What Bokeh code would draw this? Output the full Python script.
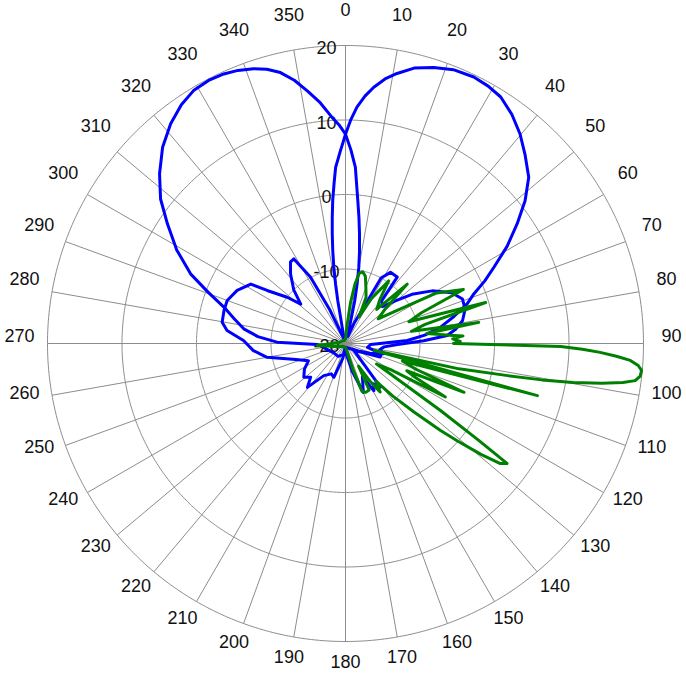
import numpy as np
from bokeh.plotting import figure
from bokeh.models import Range1d
from bokeh.embed import file_html
from bokeh.resources import INLINE
from bokeh.core.properties import value

# ---------------- data (angle in degrees clockwise from north, value in dB) ----------------
angle_ticks = list(range(0, 360, 10))
radial_ticks = [-20, -10, 0, 10, 20]

blue_a_theta = [-180, -170, -161, -155, -146, -139, -134, -129, -122, -115, -108, -100, -94.4, -88.3,
                -83.7, -80.2, -74.8, -70, -63.9, -57.9, -55.9, -51.6, -48.6, -44, -38.3, -34, -31.4,
                -27.8, -25, -21, -17, -13, -10.2, -9.5, -8.7, -7.8, -6.9, -6.0, -5.1, -4.1, -3.2,
                -2.3, -1.5, -0.7, 0, 1.4, 2.8, 4.5, 6.3, 8.5, 10.8, 14, 17.7, 21.5, 25.7, 29, 32.2,
                36, 39.8, 43.5, 47.8, 51.5, 55.1, 59, 62.8, 65.8, 68.8, 71.9, 76, 80.3, 84, 87.2, 92,
                100, 106, 111.4, 118, 130, 141.3, 145, 149, 153, 160, 166, 175, 180]
blue_a_db = [-19.5, -18, -15.2, -15.5, -14.8, -12.2, -13.5, -12.8, -13.5, -14.5, -13, -9.3, -7.6, -6.3,
             -4.0, -3.2, -3.1, -3.1, -3.8, -5.0, -7.3, -10, -12, -10, -8.1, -6.8, -6.7,
             -9.9, -15, -19, -19.5, -18.7, -14.1, -12, -9.6, -7.4, -5.2, -3.0, -0.7, 1.5, 3.7,
             4.8, 5.9, 7.0, 8.1, 10.1, 11.8, 13.3, 14.6, 15.9, 16.9, 18.1, 18.9, 19.5, 19.7, 19.5, 19.1,
             18.0, 16.6, 15.0, 13.2, 10.8, 8.1, 5.3, 2.4, 0.5, -1.5, -2.8, -5.0, -7.1, -9.3, -11.7, -16.6,
             -17, -15, -15, -17.5, -18.5, -12.5, -13.4, -12.6, -15, -13, -16, -18.5, -19.5]

blue_b_theta = [-180, -170, -150, -130, -110, -100, -92, -88.9, -85.5, -81.8, -77.5, -73.4, -69.5,
                -65.8, -61, -56.1, -52, -47.6, -43, -38.5, -34.5, -31, -27.5, -24.3, -21.5, -18.5,
                -16, -13.5, -11, -8.6, -6, -3.4, -1.6, 0, 1.6, 3.2, 4.9, 6.1, 7.3, 8.6, 9.9, 11, 12.2,
                15, 19, 22.9, 26.8, 28.5, 32.3, 37.9, 40.3, 45, 49.5, 53.5, 58.7, 64.5, 69.2, 74, 79,
                82.6, 85.5, 88, 91, 95, 100, 105, 112, 120, 180]
blue_b_db = [-19.5, -18.5, -18, -18, -17.5, -17, -16.2, -10.8, -8.2, -6.2, -4.7, -3.0, -0.3,
             2.8, 5.9, 8.8, 11.5, 13.8, 16.0, 17.7, 18.9, 19.6, 19.8, 19.7, 19.4, 18.9,
             18.3, 17.4, 16.0, 14.3, 12.5, 10.4, 9.3, 8.1, 6.0, 3.7, -0.7, -3.0, -5.2, -7.4, -9.6, -11.8, -14.1,
             -18.5, -19, -17.1, -14.5, -10, -8.7, -8.7, -12.5, -13, -11.2, -8.9, -6.4, -4.2, -3.2, -3.3, -4.0,
             -5.1, -6.3, -9.5, -13, -14.8, -15.3, -14.7, -16.5, -18, -19.5]

green_theta = [0, 4, 7, 9, 11, 13.5, 16.5, 20, 24, 27, 30, 34.6, 38, 42.5, 46.1, 49, 53, 57, 61,
               65.4, 68, 71, 73.7, 76.5, 79.5, 81, 83, 85.5, 86.3, 87.5, 89, 90, 90.8, 91.4, 92, 92.7,
               93.4, 94.3, 95.2, 96.3, 97.3, 98, 98.8, 99.7, 100.5, 101.2, 102.6, 103.5, 105.2, 107,
               110, 112.4, 114, 116, 118.2, 120, 123.5, 124.2, 125.2, 126, 126.6, 127.8, 129.3, 131,
               132.5, 135, 138, 141, 144.5, 147, 150, 153, 157.5, 161, 164, 170, 180, 220, 255, 266,
               275, 320, 360]
green_db = [-19.5, -18, -14.5, -12, -10.4, -10.1, -10.6, -12, -13.2, -16, -13, -9.8, -12.5, -13.8,
            -8.5, -13, -14.5, -12, -6, -2.6, -9, -11, -0.4, -9, -11, -1.9, -9, -6, -4.2, -5.6,
            -4.6, -5.5, 8.9, 11.8, 14.2, 16.4, 18.3, 19.4, 19.9, 19.8, 19.2, 17.6, 14.8, 11, 6.8,
            2.2, -4.4, -16, 6.7, -12, -10, -2.8, -11, -9.5, -4.8, -13, -15, -12.7, -4.4, 2, 7, 6.3,
            3.5, 0, -2.7, -7, -10.5, -13.5, -12, -14, -16.5, -13, -12.9, -13.2, -16.5, -19, -19.5,
            -19.5, -18.5, -16.2, -19, -19.5, -19.5]

# ---------------- geometry ----------------
R_MIN, R_MAX = -20.0, 20.0
R_PX = 298.0
SCALE = R_PX / (R_MAX - R_MIN)


def to_xy(theta, db):
    t = np.radians(np.asarray(theta, dtype=float))
    r = (np.asarray(db, dtype=float) - R_MIN) * SCALE
    return r * np.sin(t), r * np.cos(t)


W, H = 686, 674
CX, CY = 345, 343
p = figure(width=W, height=H, output_backend="svg", toolbar_location=None,
           x_range=Range1d(-CX, W - CX), y_range=Range1d(CY - H, CY),
           min_border=0, outline_line_color=None, background_fill_color="white")
p.axis.visible = False
p.grid.visible = False

grid_color = "#8c8c8c"
# rings
tt = np.linspace(0, 360, 721)
for v in radial_ticks[1:]:
    gx, gy = to_xy(tt, np.full_like(tt, v))
    p.line(gx, gy, line_color=grid_color, line_width=1)
# spokes
sx, sy = to_xy(angle_ticks, [R_MAX] * len(angle_ticks))
p.segment(x0=[0] * len(angle_ticks), y0=[0] * len(angle_ticks), x1=sx, y1=sy,
          line_color=grid_color, line_width=1)

# radial tick labels
ry = [(v - R_MIN) * SCALE - 2 for v in radial_ticks]
p.text(x=[-19] * len(radial_ticks), y=ry, text=[str(v) for v in radial_ticks],
       text_align="center", text_baseline="middle", text_font=value("Liberation Sans"),
       text_font_size="18px", text_color="#111111")

# angular tick labels
LAB_R = 326
ta = np.radians(angle_ticks)
p.text(x=LAB_R * np.sin(ta), y=LAB_R * np.cos(ta) + 8, text=[str(a) for a in angle_ticks],
       text_align="center", text_baseline="middle", text_font=value("Liberation Sans"),
       text_font_size="18px", text_color="#111111")

# curves
for th, db in ((blue_a_theta, blue_a_db), (blue_b_theta, blue_b_db)):
    x, y = to_xy(th, db)
    p.line(x, y, line_color="#0000ff", line_width=3, line_join="round")
x, y = to_xy(green_theta, green_db)
p.line(x, y, line_color="#008000", line_width=3, line_join="round")

open("out.html", "w").write(file_html(p, INLINE))
